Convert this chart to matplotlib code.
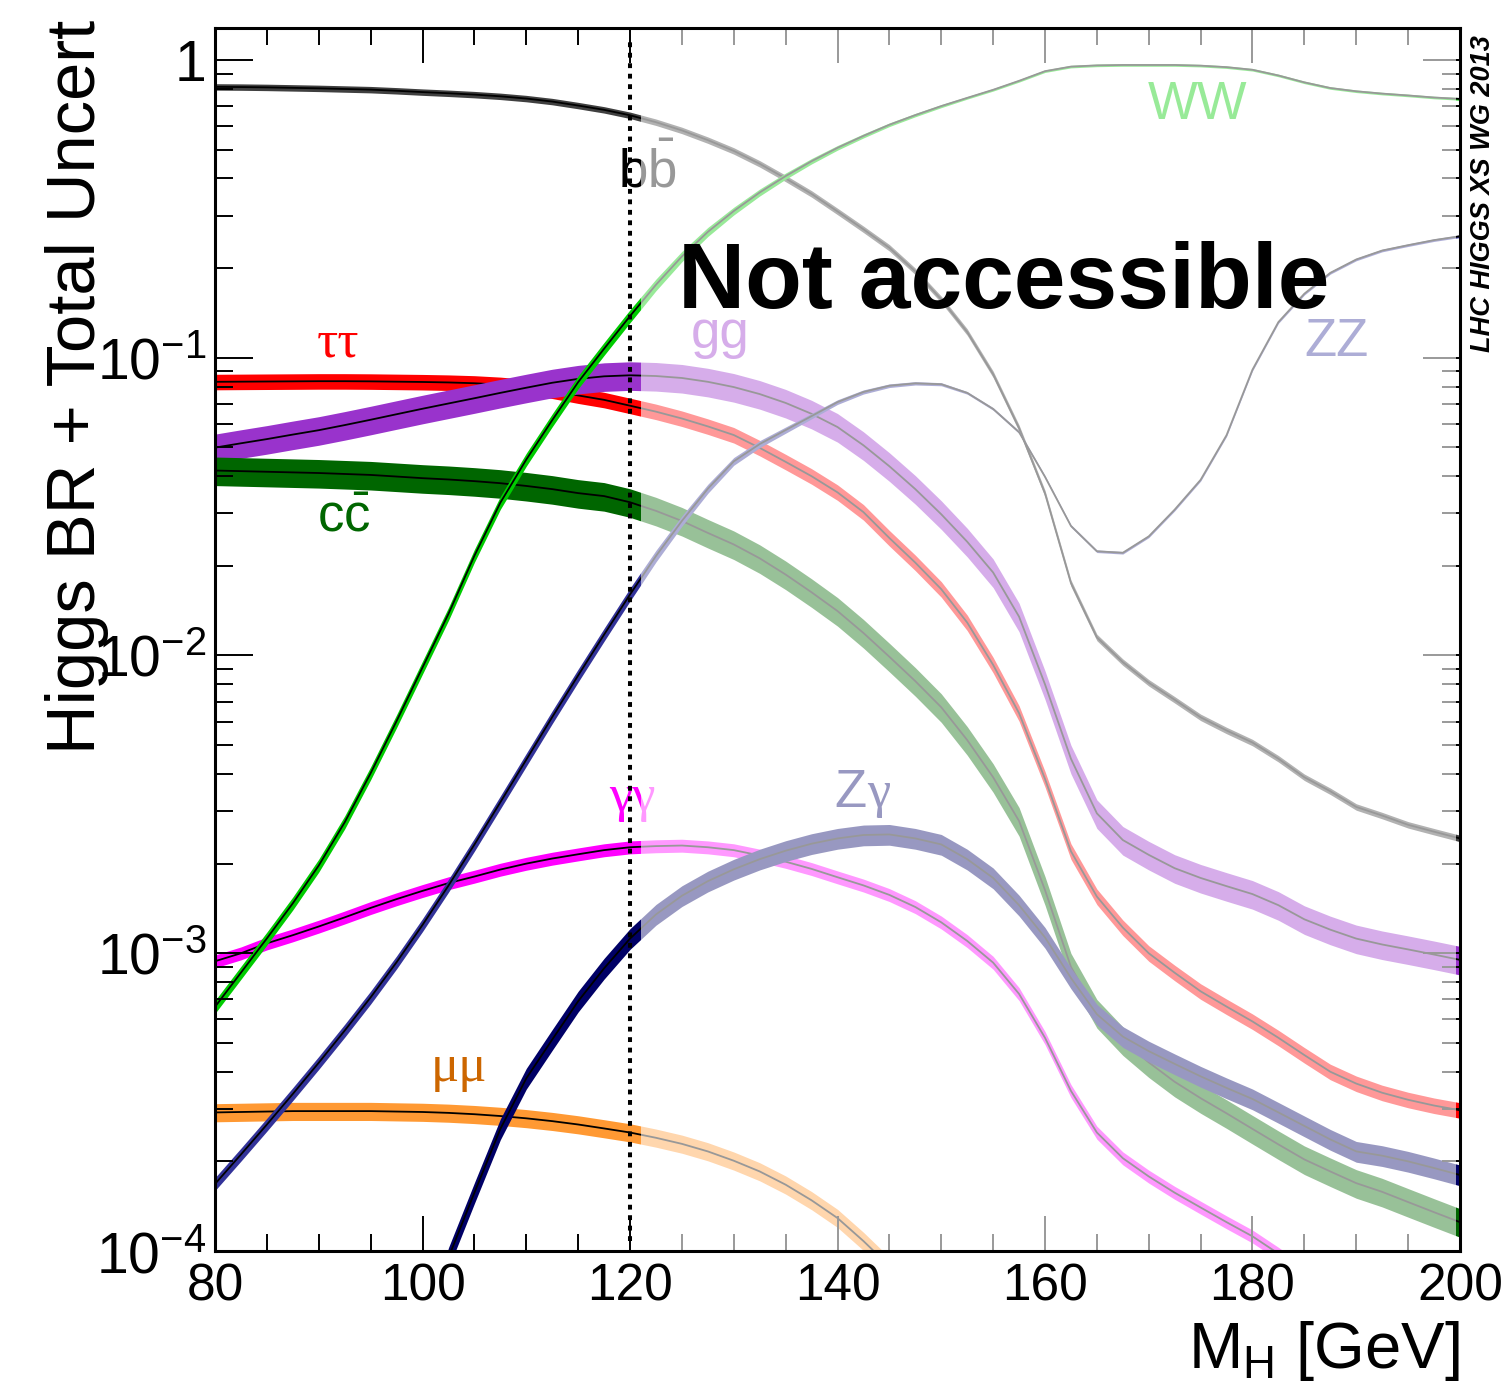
import numpy as np
import matplotlib.pyplot as plt
from matplotlib.ticker import MultipleLocator, LogLocator, NullFormatter

plt.rcParams['font.family'] = ['Liberation Sans', 'DejaVu Sans']
plt.rcParams['mathtext.fontset'] = 'custom'
plt.rcParams['mathtext.rm'] = 'Liberation Sans'
plt.rcParams['mathtext.it'] = 'Liberation Sans:italic'
plt.rcParams['mathtext.bf'] = 'Liberation Sans:bold'

nan = np.nan

# Higgs mass grid [GeV], 80..200 in 2.5 GeV steps (49 points)
mass = np.arange(80, 200.1, 2.5)

# branching ratios (10 values per row)
br_bb = [0.812, 0.811, 0.809, 0.806, 0.803, 0.799, 0.795, 0.788, 0.780, 0.773,
         0.765, 0.755, 0.742, 0.725, 0.703, 0.680, 0.652, 0.618, 0.580, 0.538,
         0.495, 0.448, 0.400, 0.355, 0.310, 0.270, 0.234, 0.195, 0.157, 0.122,
         0.088, 0.058, 0.035, 0.0175, 0.0115, 0.0095, 0.0081, 0.0071, 0.0062, 0.0056,
         0.0051, 0.0045, 0.0039, 0.0035, 0.0031, 0.0029, 0.0027, 0.00256, 0.00243]
br_tautau = [0.0830, 0.0831, 0.0832, 0.0833, 0.0834, 0.0834, 0.0833, 0.0831, 0.0829, 0.0826,
             0.0821, 0.0812, 0.0798, 0.0776, 0.0747, 0.0722, 0.0690, 0.0659, 0.0625, 0.0588,
             0.0550, 0.0498, 0.0447, 0.0400, 0.0353, 0.0303, 0.0248, 0.0205, 0.0167, 0.0129,
             0.0093, 0.0064, 0.00385, 0.0022, 0.00155, 0.00122, 0.00100, 0.00086, 0.000745,
             0.000662,
             0.00059, 0.00052, 0.000455, 0.000400, 0.000365, 0.000340, 0.000322, 0.000308,
             0.000297]
br_gg = [0.0499, 0.0516, 0.0533, 0.0552, 0.0571, 0.0594, 0.0619, 0.0646, 0.0674, 0.0702,
         0.0731, 0.0762, 0.0793, 0.0824, 0.0849, 0.0866, 0.0873, 0.0868, 0.0855, 0.0830,
         0.0797, 0.0755, 0.0705, 0.0648, 0.0585, 0.0508, 0.0432, 0.0362, 0.0298, 0.0241,
         0.0190, 0.0135, 0.0080, 0.0045, 0.00295, 0.0024, 0.00214, 0.00193, 0.00179, 0.00168,
         0.00158, 0.00145, 0.00130, 0.00120, 0.00112, 0.00107, 0.00103, 0.00099, 0.00095]
br_cc = [0.0418, 0.0416, 0.0414, 0.0412, 0.0410, 0.0407, 0.0404, 0.0399, 0.0394, 0.0390,
         0.0385, 0.0379, 0.0371, 0.0362, 0.0351, 0.0343, 0.0327, 0.0306, 0.0283, 0.0258,
         0.0236, 0.0212, 0.0187, 0.0163, 0.0141, 0.0119, 0.0099, 0.0082, 0.0067, 0.0052,
         0.0039, 0.00278, 0.00163, 0.0009, 0.00063, 0.00051, 0.00043, 0.00037, 0.000326,
         0.00029,
         0.000257, 0.000228, 0.000203, 0.000185, 0.000169, 0.000158, 0.000146, 0.000135,
         0.000125]
br_gamgam = [0.00094, 0.00100, 0.00108, 0.00115, 0.00123, 0.00132, 0.00142, 0.00152, 0.00162,
             0.00172,
             0.00181, 0.00191, 0.00200, 0.00208, 0.00215, 0.00222, 0.00227, 0.00229, 0.00230,
             0.00227,
             0.00222, 0.00213, 0.00203, 0.00192, 0.00180, 0.00169, 0.00157, 0.00143, 0.00127,
             0.00110,
             0.00093, 0.00073, 0.00052, 0.000345, 0.00025, 0.000205, 0.000178, 0.000157,
             0.00014, 0.000125,
             0.000112, 9.8e-5, 8.5e-5, nan, nan, nan, nan, nan, nan]
br_mumu = [0.000292, 0.000293, 0.000294, 0.000295, 0.000295, 0.000295, 0.000295, 0.000294,
           0.000293, 0.000291,
           0.000288, 0.000284, 0.000279, 0.000273, 0.000266, 0.000258, 0.000250, 0.000240,
           0.000229, 0.000216,
           0.000201, 0.000185, 0.000167, 0.000148, 0.000129, 0.000108, 8.9e-5, 7.2e-5, nan, nan,
           nan, nan, nan, nan, nan, nan, nan, nan, nan, nan,
           nan, nan, nan, nan, nan, nan, nan, nan, nan]
br_zgam = [nan, nan, nan, nan, nan, nan, nan, nan, 5.0e-5, 9.5e-5,
           0.000157, 0.000257, 0.00038, 0.000513, 0.00069, 0.00089, 0.00112, 0.00135, 0.00156,
           0.001746,
           0.001914, 0.00207, 0.00221, 0.002333, 0.00243, 0.002495, 0.002506, 0.00243, 0.00232,
           0.00207,
           0.00179, 0.00145, 0.00113, 0.000826, 0.000624, 0.000525, 0.000469, 0.000425,
           0.000386, 0.000353,
           0.000324, 0.000292, 0.000263, 0.000237, 0.000216, 0.000209, 0.000200, 0.000190,
           0.000180]
br_zz = [0.000168, 0.000211, 0.000266, 0.000337, 0.000429, 0.00055, 0.000711, 0.000933,
         0.001245, 0.001687,
         0.002317, 0.003214, 0.004467, 0.00621, 0.00857, 0.01175, 0.01603, 0.02158, 0.02831,
         0.03631,
         0.04487, 0.05129, 0.05715, 0.06368, 0.07096, 0.07674, 0.08054, 0.08204, 0.08147,
         0.07621,
         0.0673, 0.05623, 0.03981, 0.02723, 0.02239, 0.02213, 0.02512, 0.0309, 0.0389, 0.05495,
         0.0912, 0.1318, 0.1641, 0.1928, 0.2138, 0.2291, 0.2388, 0.2483, 0.2559]
br_ww = [0.000661, 0.000861, 0.001122, 0.001472, 0.001972, 0.002754, 0.004027, 0.006026,
         0.00912, 0.0138,
         0.02163, 0.0326, 0.0455, 0.0617, 0.0828, 0.1072, 0.138, 0.1758, 0.2188, 0.2646,
         0.3109, 0.3589, 0.4074, 0.4571, 0.507, 0.556, 0.606, 0.653, 0.700, 0.746,
         0.794, 0.851, 0.917, 0.950, 0.959, 0.962, 0.962, 0.962, 0.957, 0.946,
         0.927, 0.887, 0.841, 0.805, 0.785, 0.771, 0.760, 0.748, 0.740]

# relative total uncertainty (half width of band); WW/ZZ shrink with mass
unc_vv = [0.05] * 17 + [0.045, 0.04, 0.035, 0.03, 0.027, 0.024, 0.021, 0.018, 0.016,
                        0.014, 0.013, 0.012] + [0.01] * 20
unc = [0.025, 0.06, 0.11, 0.11, 0.05, 0.07, 0.08, unc_vv, unc_vv]
values = [br_bb, br_tautau, br_gg, br_cc, br_gamgam, br_mumu, br_zgam, br_zz, br_ww]
colors = ['#404040', '#ff0000', '#9933cc', '#006600', '#ff00ff', '#ff9933', '#000066',
          '#333399', '#00cc00']

fig = plt.figure(figsize=(15.07, 13.88), dpi=100)
ax = fig.add_axes([0.1427, 0.0987, 0.8261, 0.8811])
ax.set_axisbelow(False)
ax.set_yscale('log')

for i, (v, u, c) in enumerate(zip(values, unc, colors)):
    v = np.array(v)
    u = np.array(u)
    z = 1 + i * 0.1
    ax.fill_between(mass, v * (1 - u), v * (1 + u), color=c, lw=0, zorder=z)
    ax.plot(mass, v, color='black', lw=1.3, zorder=z + 0.05)

# channel labels
lab = dict(fontsize=38, zorder=2.8, va='baseline')
greek = ['Liberation Serif', 'DejaVu Serif']
ax.text(121.7, 0.372, r'b$\bar{\mathrm{b}}$', color='black', ha='center', **lab)
ax.text(91.9, 0.1007, 'ττ', color='#ff0000', ha='center', family=greek, **lab)
ax.text(128.7, 0.108, 'gg', color='#9933cc', ha='center', **lab)
ax.text(92.4, 0.0261, r'c$\bar{\mathrm{c}}$', color='#006600', ha='center', **lab)
ax.text(174.7, 0.634, 'WW', color='#00cc00', ha='center', **lab)
ax.text(188.05, 0.1015, 'ZZ', color='#333399', ha='center', **lab)
ax.text(120.2, 0.0030, 'γγ', color='#ff00ff', ha='center', family=greek, **lab)
ax.text(142.84, 0.00309, 'Z', color='#000066', ha='right', **lab)
ax.text(142.84, 0.00309, 'γ', color='#000066', ha='left', family=greek, **lab)
ax.text(103.5, 0.000372, 'μμ', color='#cc6600', ha='center', family=greek, **lab)

# faded region beyond the accessible mass range
ax.axvspan(121.05, 199.6, color='white', alpha=0.6, lw=0, zorder=3)
ax.axvline(120, ymin=0.008, ymax=0.99, color='black', lw=2.9, ls=(0, (1.2, 1.4)), zorder=4)
ax.text(124.6, 0.147, 'Not accessible', fontsize=67, fontweight='bold',
        ha='left', va='baseline', zorder=6)

ax.set_xlim(80, 200)
ax.set_ylim(1e-4, 1.28)
ax.set_xticks([80, 100, 120, 140, 160, 180, 200])
ax.xaxis.set_minor_locator(MultipleLocator(5))
ax.set_yticks([1e-4, 1e-3, 1e-2, 1e-1, 1],
              [r'$\mathregular{10^{-4}}$', r'$\mathregular{10^{-3}}$',
               r'$\mathregular{10^{-2}}$', r'$\mathregular{10^{-1}}$', '1'])
ax.yaxis.set_minor_locator(LogLocator(base=10, subs=np.arange(2, 10)))
ax.yaxis.set_minor_formatter(NullFormatter())

ax.tick_params(which='both', direction='in', top=True, right=True, width=1.4, color='black')
ax.tick_params(axis='x', which='major', length=25, labelsize=37, pad=8)
ax.tick_params(axis='x', which='minor', length=12)
ax.tick_params(axis='y', which='major', length=27, labelsize=41, pad=6)
ax.tick_params(axis='y', which='minor', length=13)
for s in ax.spines.values():
    s.set_linewidth(2.2)
    s.set_zorder(5)

fig.text(95 / 1507, 1 - 20 / 1388, 'Higgs BR + Total Uncert', fontsize=49.5, rotation=90,
         rotation_mode='anchor', ha='right', va='baseline')
fig.text(1460 / 1507, 1 - 1368 / 1388, r'M$_{\mathrm{H}}$ [GeV]', fontsize=47,
         ha='right', va='baseline')
fig.text(1490 / 1507, 1 - 35 / 1388, 'LHC HIGGS XS WG 2013', fontsize=19.5,
         fontweight='bold', fontstyle='italic', rotation=90, rotation_mode='anchor',
         ha='right', va='baseline')

fig.savefig('out.png', dpi=100)
